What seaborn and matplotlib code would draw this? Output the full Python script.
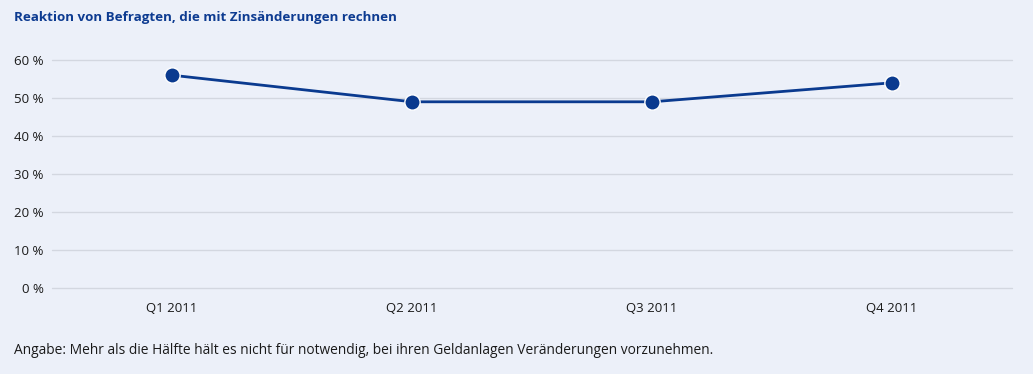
import matplotlib
matplotlib.use("Agg")
import matplotlib.pyplot as plt
import seaborn as sns
import pandas as pd

# Data
quarters = ["Q1 2011", "Q2 2011", "Q3 2011", "Q4 2011"]
share = [56, 49, 49, 54]
y_ticks = [0, 10, 20, 30, 40, 50, 60]

bg = "#ECF0F9"
blue = "#0A3A8F"
title_blue = "#0D3B91"

sns.set_style("white")
plt.rcParams['font.family'] = ['Open Sans', 'DejaVu Sans']

df = pd.DataFrame({"Quartal": quarters, "Anteil": share})

fig = plt.figure(figsize=(10.33, 3.74), dpi=100, facecolor=bg)
ax = fig.add_axes([52 / 1033, 86 / 374, 960 / 1033, 228 / 374])
ax.set_facecolor(bg)

sns.lineplot(data=df, x="Quartal", y="Anteil", ax=ax, color=blue, linewidth=2,
             marker="o", markersize=11, markerfacecolor=blue,
             markeredgecolor="white", markeredgewidth=1.0, clip_on=False, zorder=3)

ax.set_xlim(-0.5, 3.5)
ax.set_ylim(0, 60)
ax.set_yticks(y_ticks)
ax.set_yticklabels([f"{v} %" for v in y_ticks], fontsize=9.5, color="#1a1a1a")
ax.tick_params(axis="y", length=0, pad=6)
ax.tick_params(axis="x", length=4, color="#C8CCD6", labelsize=9.5, labelcolor="#1a1a1a", pad=6)
ax.grid(axis="y", color="#D3D7E0", linewidth=1)
for gl in ax.get_ygridlines():
    gl.set_clip_on(False)
ax.set_axisbelow(True)
for s in ax.spines.values():
    s.set_visible(False)
ax.set_xlabel("")
ax.set_ylabel("")

fig.text(14 / 1033, 1 - 17 / 374, "Reaktion von Befragten, die mit Zinsänderungen rechnen",
         fontsize=9.6, fontweight="bold", color=title_blue, va="center", ha="left")
fig.text(14 / 1033, 1 - 350 / 374,
         "Angabe: Mehr als die Hälfte hält es nicht für notwendig, bei ihren Geldanlagen Veränderungen vorzunehmen.",
         fontsize=9.9, color="#1a1a1a", va="center", ha="left")

fig.savefig("out.png", dpi=100, facecolor=bg)
